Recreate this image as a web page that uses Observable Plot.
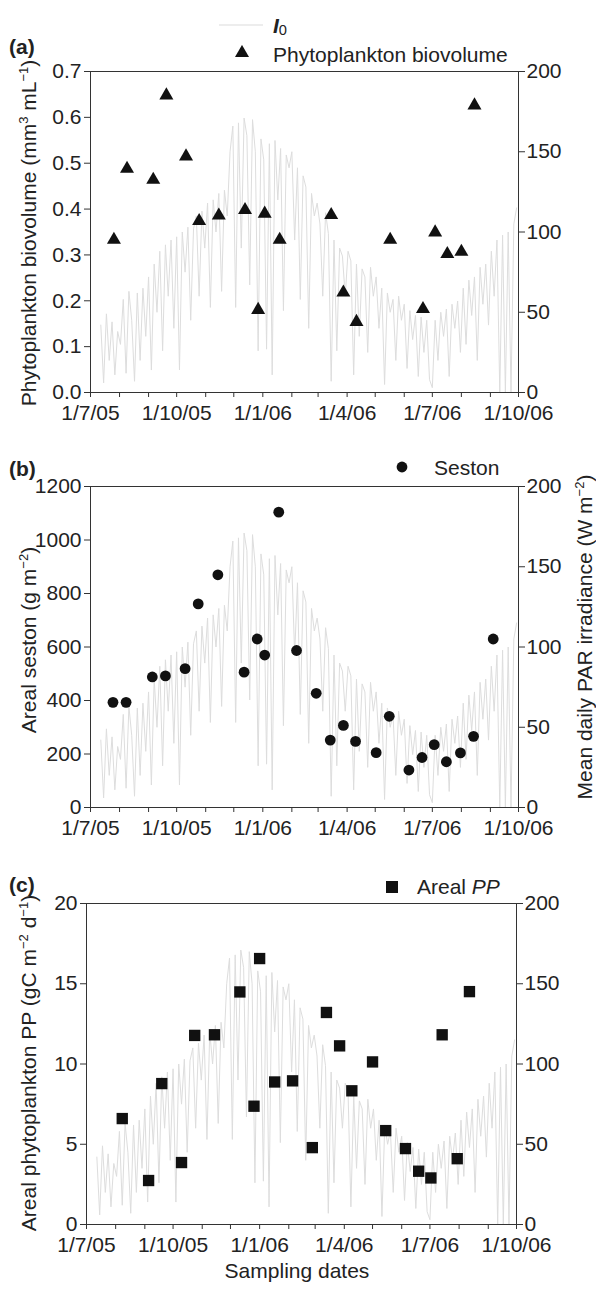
<!DOCTYPE html>
<html><head><meta charset="utf-8">
<script src="https://cdn.jsdelivr.net/npm/d3@7"></script>
<script src="https://cdn.jsdelivr.net/npm/@observablehq/plot@0.6"></script>
<style>
body{margin:0;background:#fff;}
#wrap{position:relative;width:596px;height:1291px;overflow:hidden;font-family:"Liberation Sans",Arial,Helvetica,sans-serif;color:#222;}
.lab{position:absolute;font-size:21px;white-space:nowrap;line-height:1;}
.lab sup{font-size:0.62em;vertical-align:0.55em;line-height:0;}
.lab sub{font-size:0.7em;vertical-align:-0.2em;line-height:0;}
.pl{position:absolute;left:0;}
</style></head><body><div id="wrap"></div>
<script>
// ---------- data ----------
// Panel (a): phytoplankton biovolume (mm3 mL-1)
const bioDates = ["2005-07-26","2005-08-09","2005-09-06","2005-09-20","2005-10-11","2005-10-25","2005-11-15","2005-12-13","2005-12-27","2006-01-03","2006-01-19","2006-03-15","2006-03-28","2006-04-11","2006-05-17","2006-06-21","2006-07-04","2006-07-17","2006-08-01","2006-08-15"];
const bioValues = [0.333,0.488,0.464,0.648,0.515,0.374,0.386,0.398,0.180,0.390,0.333,0.387,0.218,0.154,0.333,0.182,0.349,0.302,0.307,0.626];
// Panel (b): areal seston (g m-2)
const sestonDates = ["2005-07-25","2005-08-08","2005-09-05","2005-09-19","2005-10-10","2005-10-24","2005-11-14","2005-12-12","2005-12-26","2006-01-03","2006-01-18","2006-02-06","2006-02-27","2006-03-14","2006-03-28","2006-04-10","2006-05-02","2006-05-16","2006-06-06","2006-06-20","2006-07-03","2006-07-16","2006-07-31","2006-08-14","2006-09-04"];
const sestonValues = [393,393,488,492,519,761,870,506,630,570,1104,587,427,252,307,247,205,341,140,187,235,171,204,266,630];
// Panel (c): areal phytoplankton PP (gC m-2 d-1)
const ppDates = ["2005-08-08","2005-09-05","2005-09-19","2005-10-10","2005-10-24","2005-11-14","2005-12-11","2005-12-26","2006-01-01","2006-01-17","2006-02-05","2006-02-26","2006-03-13","2006-03-27","2006-04-09","2006-05-01","2006-05-15","2006-06-05","2006-06-19","2006-07-02","2006-07-14","2006-07-30","2006-08-12"];
const ppValues = [6.60,2.74,8.78,3.86,11.78,11.82,14.49,7.37,16.57,8.88,8.95,4.79,13.21,11.13,8.33,10.13,5.85,4.73,3.32,2.90,11.82,4.10,14.51];
// I0: mean daily PAR irradiance (W m-2), read every 3rd day from 12 Jul 2005
const irrStart = "2005-07-12";
const irrStepDays = 3;
const irrValues = [
  42,6,49,20,44,11,38,
  30,58,12,63,45,7,62,20,65,35,
  72,14,80,50,88,26,92,60,95,40,
  97,14,100,75,103,45,102,110,60,113,90,
  118,53,120,100,124,63,126,110,150,166,
  53,168,90,171,160,67,170,150,26,158,
  145,27,155,11,157,120,152,51,148,140,
  150,95,140,58,135,128,40,124,110,118,
  105,60,112,99,7,95,26,90,85,60,
  88,82,11,80,35,77,72,25,78,60,
  72,40,65,5,62,50,58,20,60,45,
  55,15,51,33,48,10,47,25,45,8,
  3,45,20,50,35,52,10,55,40,57,25,
  65,30,70,48,72,20,78,55,80,42,
  88,60,95,0,98,0,100,0,105,115
];
const xDomain = ["2005-07-01","2006-10-01"];
const rightTicks = [0,50,100,150,200];
const rightMax = 200;

// ---------- build tables ----------
const P = s => new Date(s + "T00:00:00Z");
const bio = bioDates.map((d,i)=>({date:P(d), v:bioValues[i]}));
const seston = sestonDates.map((d,i)=>({date:P(d), v:sestonValues[i]}));
const pp = ppDates.map((d,i)=>({date:P(d), v:ppValues[i]}));
const irr = irrValues.map((v,i)=>({date:d3.utcDay.offset(P(irrStart), i*irrStepDays), v}));
const x0 = P(xDomain[0]), x1 = P(xDomain[1]);
const monthTicks = d3.utcMonths(x0, d3.utcDay.offset(x1,1));
const xFmt = d => { const m = d.getUTCMonth(); return m % 3 ? "" : `1/${m+1}/${String(d.getUTCFullYear()).slice(2)}`; };

const wrap = document.getElementById("wrap");
const FONT = "Liberation Sans, Arial, Helvetica, sans-serif";
const FS = 21;

function panel({top, height, mt, mb, ml, mr, yMax, yTicks, yFmt, dots}) {
  const k = yMax / rightMax;
  const chart = Plot.plot({
    width: 596, height, marginTop: mt, marginBottom: mb, marginLeft: ml, marginRight: mr,
    style: {fontFamily: FONT, fontSize: FS + "px", color: "#222", background: "transparent", overflow: "visible"},
    x: {type: "utc", domain: [x0, x1]},
    y: {domain: [0, yMax]},
    marks: [
      Plot.line(irr, {x: "date", y: d => d.v * k, stroke: "#dddddd", strokeWidth: 1}),
      Plot.frame({stroke: "#333", strokeWidth: 1}),
      Plot.axisX({ticks: monthTicks, tickFormat: xFmt, tickSize: 5, tickPadding: 8, fontSize: FS, label: null, stroke: "#333"}),
      Plot.axisY({ticks: yTicks, tickFormat: yFmt, tickSize: 6, tickPadding: 3, fontSize: FS, label: null, stroke: "#333"}),
      Plot.axisY(rightTicks.map(t => t * k), {anchor: "right", tickFormat: d => Math.round(d / k), tickSize: 6, tickPadding: 2, fontSize: FS, label: null, stroke: "#333"}),
      dots
    ]
  });
  chart.classList.add("pl");
  chart.style.top = top + "px";
  wrap.appendChild(chart);
}

panel({top: 0, height: 425, mt: 71, mb: 33, ml: 90, mr: 78, yMax: 0.7,
  yTicks: [0,0.1,0.2,0.3,0.4,0.5,0.6,0.7], yFmt: d3.format(".1f"),
  dots: Plot.dot(bio, {x: "date", y: "v", symbol: "triangle", r: 5.2, fill: "#111", stroke: null})});
panel({top: 425, height: 420, mt: 61, mb: 38, ml: 90, mr: 78, yMax: 1200,
  yTicks: [0,200,400,600,800,1000,1200], yFmt: d3.format("d"),
  dots: Plot.dot(seston, {x: "date", y: "v", symbol: "circle", r: 5.4, fill: "#111", stroke: null})});
panel({top: 845, height: 420, mt: 58, mb: 41, ml: 86, mr: 80, yMax: 20,
  yTicks: [0,5,10,15,20], yFmt: d3.format("d"),
  dots: Plot.dot(pp, {x: "date", y: "v", symbol: "square", r: 6.4, fill: "#111", stroke: null})});

// ---------- text & legends ----------
function label(html, x, y, mode, extra) {
  const d = document.createElement("div");
  d.className = "lab";
  d.innerHTML = html;
  d.style.left = x + "px"; d.style.top = y + "px";
  d.style.transform = mode === "rot" ? "translate(-50%,-50%) rotate(-90deg)" : mode === "center" ? "translate(-50%,-50%)" : "translate(0,-50%)";
  if (extra) Object.assign(d.style, extra);
  wrap.appendChild(d);
}
function sym(svgInner, x, y, w, h) {
  const ns = "http://www.w3.org/2000/svg";
  const s = document.createElementNS(ns, "svg");
  s.setAttribute("width", w); s.setAttribute("height", h);
  s.setAttribute("viewBox", `${-w/2} ${-h/2} ${w} ${h}`);
  s.style.position = "absolute"; s.style.left = (x - w/2) + "px"; s.style.top = (y - h/2) + "px";
  s.innerHTML = svgInner;
  wrap.appendChild(s);
}

label("(a)", 9, 46, null, {fontWeight: "bold"});
label("(b)", 9, 468, null, {fontWeight: "bold"});
label("(c)", 9, 884, null, {fontWeight: "bold"});

sym('<line x1="-22" x2="22" y1="0" y2="0" stroke="#dcdcdc" stroke-width="1.2"/>', 241, 25, 46, 4);
label('<b><i>I</i></b><sub>0</sub>', 273, 25);
sym('<path d="' + d3.symbol(d3.symbolTriangle, Math.PI*5.2*5.2)() + '" fill="#111"/>', 242, 53, 16, 16);
label("Phytoplankton biovolume", 273, 54);
sym('<circle r="5.4" fill="#111"/>', 402, 467, 14, 14);
label("Seston", 434, 467);
sym('<rect x="-6" y="-6" width="12" height="12" fill="#111"/>', 392, 887, 14, 14);
label('Areal <i>PP</i>', 417, 886);

label('Phytoplankton biovolume (mm<sup>3</sup> mL<sup>−1</sup>)', 28, 233, "rot");
label('Areal seston (g m<sup>−2</sup>)', 28, 640, "rot");
label('Mean daily PAR irradiance (W m<sup>−2</sup>)', 584, 637, "rot");
label('Areal phytoplankton PP (gC m<sup>−2</sup> d<sup>−1</sup>)', 28, 1063, "rot");
label('Sampling dates', 297, 1270, "center");
</script></body></html>
